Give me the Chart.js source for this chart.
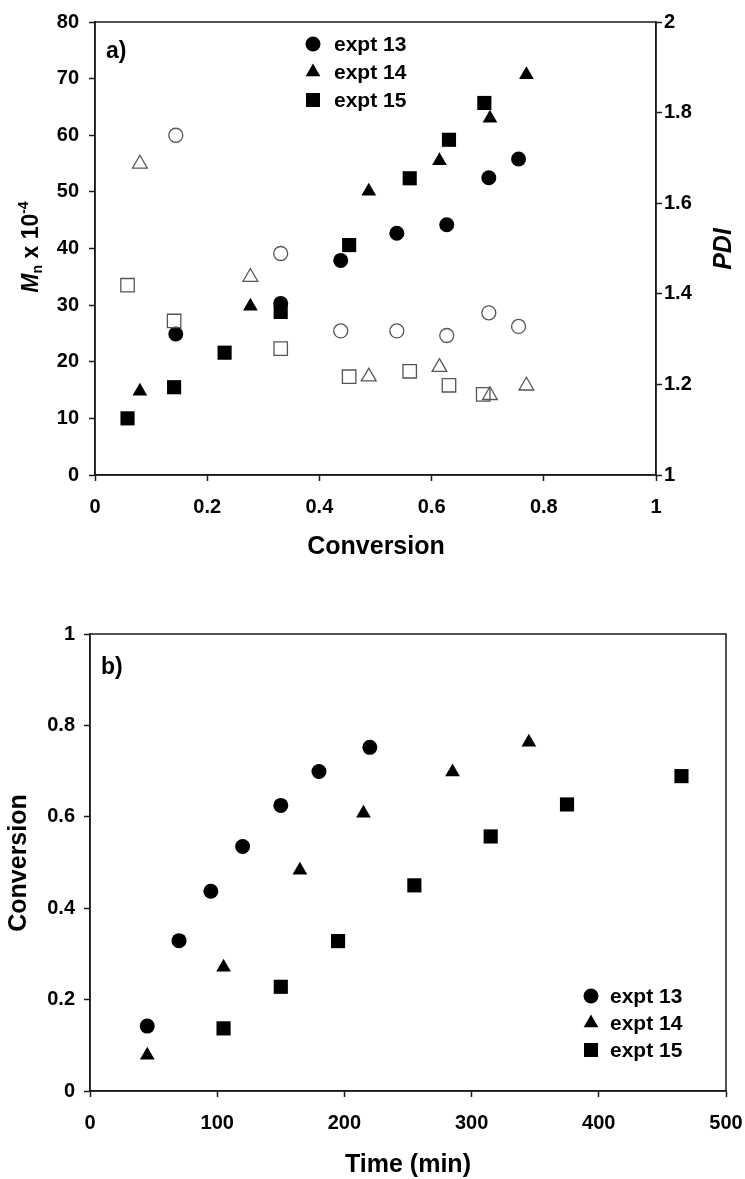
<!DOCTYPE html>
<html>
<head>
<meta charset="utf-8">
<script src="https://cdn.jsdelivr.net/npm/chart.js@4/dist/chart.umd.min.js"></script>
<style>
  html, body { margin: 0; padding: 0; background: #fff; }
  #wrapA { position: absolute; left: 0; top: 0; width: 745px; height: 560px; }
  #wrapB { position: absolute; left: 0; top: 560px; width: 745px; height: 619px; }
</style>
</head>
<body>
<div id="wrapA"><canvas id="chartA" width="745" height="560"></canvas></div>
<div id="wrapB"><canvas id="chartB" width="745" height="619"></canvas></div>
<script>
// panel a) Mn and PDI against conversion
const conv13 = [0.144, 0.331, 0.438, 0.538, 0.627, 0.702, 0.755];
const mn13 = [24.9, 30.3, 37.9, 42.7, 44.2, 52.5, 55.8];
const pdi13 = [1.75, 1.489, 1.318, 1.318, 1.308, 1.358, 1.328];

const conv14 = [0.08, 0.277, 0.488, 0.614, 0.704, 0.769];
const mn14 = [14.8, 29.8, 50.1, 55.5, 63.0, 70.7];
const pdi14 = [1.687, 1.437, 1.217, 1.238, 1.176, 1.197];

const conv15 = [0.058, 0.141, 0.231, 0.331, 0.453, 0.561, 0.631, 0.694];
const mn15 = [10.0, 15.5, 21.6, 28.8, 40.6, 52.4, 59.2, 65.7];
const conv15pdi = [0.058, 0.141, 0.331, 0.453, 0.561, 0.631, 0.692];
const pdi15 = [1.419, 1.34, 1.279, 1.217, 1.229, 1.198, 1.178];

// panel b) conversion against time
const time13 = [45, 70, 95, 120, 150, 180, 220];
const convT13 = [0.142, 0.329, 0.437, 0.535, 0.625, 0.699, 0.752];
const time14 = [45, 105, 165, 215, 285, 345];
const convT14 = [0.078, 0.271, 0.483, 0.608, 0.698, 0.763];
const time15 = [105, 150, 195, 255, 315, 375, 465];
const convT15 = [0.137, 0.228, 0.328, 0.45, 0.557, 0.627, 0.689];

const legendLabels = ['expt 13', 'expt 14', 'expt 15'];
const legendStyles = ['circle', 'triangle', 'rect'];

const FONT = '"Liberation Sans", Arial, sans-serif';
const AXIS = '#1a1a1a';

function pts(xs, ys) {
  return xs.map((x, i) => ({ x: x, y: ys[i] }));
}

function filledSet(label, data, style, yAxis) {
  const r = style === 'circle' ? 7.5 : (style === 'triangle' ? 8.5 : 10);
  return {
    label: label,
    data: data,
    yAxisID: yAxis,
    pointStyle: style,
    pointRadius: r,
    backgroundColor: '#000',
    borderColor: '#000',
    borderWidth: 0,
    showLine: false
  };
}

function openSet(label, data, style) {
  const r = style === 'circle' ? 7 : (style === 'triangle' ? 8.5 : 9.5);
  return {
    label: label,
    data: data,
    yAxisID: 'y2',
    pointStyle: style,
    pointRadius: r,
    backgroundColor: 'rgba(255,255,255,0)',
    borderColor: '#555',
    borderWidth: 1.3,
    showLine: false
  };
}

function axisStyle(min, max, step, pos) {
  return {
    type: 'linear',
    position: pos,
    min: min,
    max: max,
    ticks: {
      stepSize: step,
      color: '#000',
      font: { family: FONT, size: 20, weight: 'bold' },
      callback: v => String(Math.round(v * 10) / 10)
    },
    grid: {
      display: true,
      drawOnChartArea: false,
      drawTicks: true,
      tickLength: 6,
      tickColor: AXIS,
      tickWidth: 1.5
    },
    border: { display: true, color: AXIS, width: 1.5 },
    title: { display: false }
  };
}

function drawMarker(ctx, style, x, y) {
  ctx.beginPath();
  if (style === 'circle') {
    ctx.arc(x, y, 7.5, 0, Math.PI * 2);
  } else if (style === 'triangle') {
    const r = 8.5;
    ctx.moveTo(x, y - r);
    ctx.lineTo(x + r * Math.sin(Math.PI * 2 / 3), y + r / 2);
    ctx.lineTo(x - r * Math.sin(Math.PI * 2 / 3), y + r / 2);
    ctx.closePath();
  } else {
    ctx.rect(x - 7, y - 7, 14, 14);
  }
  ctx.fillStyle = '#000';
  ctx.fill();
}

function drawLegend(ctx, mx, tx, rows) {
  ctx.save();
  ctx.font = 'bold 21px ' + FONT;
  ctx.textBaseline = 'middle';
  ctx.textAlign = 'left';
  legendLabels.forEach((lab, i) => {
    drawMarker(ctx, legendStyles[i], mx, rows[i]);
    ctx.fillStyle = '#000';
    ctx.fillText(lab, tx, rows[i] + 1);
  });
  ctx.restore();
}

function rotatedText(ctx, text, font, cx, cy) {
  ctx.save();
  ctx.translate(cx, cy);
  ctx.rotate(-Math.PI / 2);
  ctx.font = font;
  ctx.textAlign = 'center';
  ctx.textBaseline = 'middle';
  ctx.fillStyle = '#000';
  ctx.fillText(text, 0, 0);
  ctx.restore();
}

function frame(ctx, area) {
  ctx.save();
  ctx.strokeStyle = AXIS;
  ctx.lineWidth = 1.5;
  ctx.strokeRect(area.left, area.top, area.right - area.left, area.bottom - area.top);
  ctx.restore();
}

const decoA = {
  id: 'decoA',
  afterDraw(chart) {
    const ctx = chart.ctx;
    frame(ctx, chart.chartArea);

    // Mn x 10^-4, rotated
    ctx.save();
    ctx.translate(30, 247);
    ctx.rotate(-Math.PI / 2);
    ctx.fillStyle = '#000';
    ctx.textBaseline = 'alphabetic';
    const big = 'bold 23px ' + FONT;
    const bigIt = 'italic bold 23px ' + FONT;
    const small = 'bold 14px ' + FONT;
    const parts = [
      { t: 'M', f: bigIt, dy: 0 },
      { t: 'n', f: small, dy: 4 },
      { t: ' x 10', f: big, dy: 0 },
      { t: '-4', f: small, dy: -10 }
    ];
    let total = 0;
    parts.forEach(p => { ctx.font = p.f; p.w = ctx.measureText(p.t).width; total += p.w; });
    let x = -total / 2;
    parts.forEach(p => {
      ctx.font = p.f;
      ctx.fillText(p.t, x, 8 + p.dy);
      x += p.w;
    });
    ctx.restore();

    rotatedText(ctx, 'PDI', 'italic bold 25px ' + FONT, 724, 249);

    ctx.save();
    ctx.font = 'bold 25px ' + FONT;
    ctx.textAlign = 'center';
    ctx.textBaseline = 'middle';
    ctx.fillStyle = '#000';
    ctx.fillText('Conversion', 376, 547);
    ctx.font = 'bold 23px ' + FONT;
    ctx.textAlign = 'left';
    ctx.fillText('a)', 106, 52);
    ctx.restore();

    drawLegend(ctx, 313, 334, [44, 72, 100]);
  }
};

const decoB = {
  id: 'decoB',
  afterDraw(chart) {
    const ctx = chart.ctx;
    frame(ctx, chart.chartArea);
    rotatedText(ctx, 'Conversion', 'bold 25px ' + FONT, 19, 303);

    ctx.save();
    ctx.font = 'bold 25px ' + FONT;
    ctx.textAlign = 'center';
    ctx.textBaseline = 'middle';
    ctx.fillStyle = '#000';
    ctx.fillText('Time (min)', 408, 605);
    ctx.font = 'bold 23px ' + FONT;
    ctx.textAlign = 'left';
    ctx.fillText('b)', 101, 108);
    ctx.restore();

    drawLegend(ctx, 591, 610, [436, 463, 490]);
  }
};

// chart a
const xA = axisStyle(0, 1, 0.2, 'bottom');
xA.ticks.padding = 14;
xA.afterFit = s => { s.height = 85; s.paddingLeft = 0; s.paddingRight = 0; };
const yA = axisStyle(0, 80, 10, 'left');
yA.ticks.padding = 10;
yA.afterFit = s => { s.width = 95; };
const y2A = axisStyle(1, 2, 0.2, 'right');
y2A.ticks.padding = 2;
y2A.afterFit = s => { s.width = 89; };

new Chart(document.getElementById('chartA'), {
  type: 'scatter',
  data: {
    datasets: [
      openSet('PDI 13', pts(conv13, pdi13), 'circle'),
      openSet('PDI 14', pts(conv14, pdi14), 'triangle'),
      openSet('PDI 15', pts(conv15pdi, pdi15), 'rect'),
      filledSet('expt 13', pts(conv13, mn13), 'circle', 'y'),
      filledSet('expt 14', pts(conv14, mn14), 'triangle', 'y'),
      filledSet('expt 15', pts(conv15, mn15), 'rect', 'y')
    ]
  },
  options: {
    responsive: false,
    animation: false,
    events: [],
    layout: { padding: { top: 19, left: 0, right: 0, bottom: 0 } },
    plugins: { legend: { display: false }, tooltip: { enabled: false } },
    scales: { x: xA, y: yA, y2: y2A }
  },
  plugins: [decoA]
});

// chart b
const xB = axisStyle(0, 500, 100, 'bottom');
xB.ticks.padding = 14;
xB.afterFit = s => { s.height = 88; s.paddingLeft = 0; s.paddingRight = 0; };
const yB = axisStyle(0, 1, 0.2, 'left');
yB.ticks.padding = 9;
yB.afterFit = s => { s.width = 90; };

new Chart(document.getElementById('chartB'), {
  type: 'scatter',
  data: {
    datasets: [
      filledSet('expt 13', pts(time13, convT13), 'circle', 'y'),
      filledSet('expt 14', pts(time14, convT14), 'triangle', 'y'),
      filledSet('expt 15', pts(time15, convT15), 'rect', 'y')
    ]
  },
  options: {
    responsive: false,
    animation: false,
    events: [],
    layout: { padding: { top: 74, left: 0, right: 19, bottom: 0 } },
    plugins: { legend: { display: false }, tooltip: { enabled: false } },
    scales: { x: xB, y: yB }
  },
  plugins: [decoB]
});
</script>
</body>
</html>
